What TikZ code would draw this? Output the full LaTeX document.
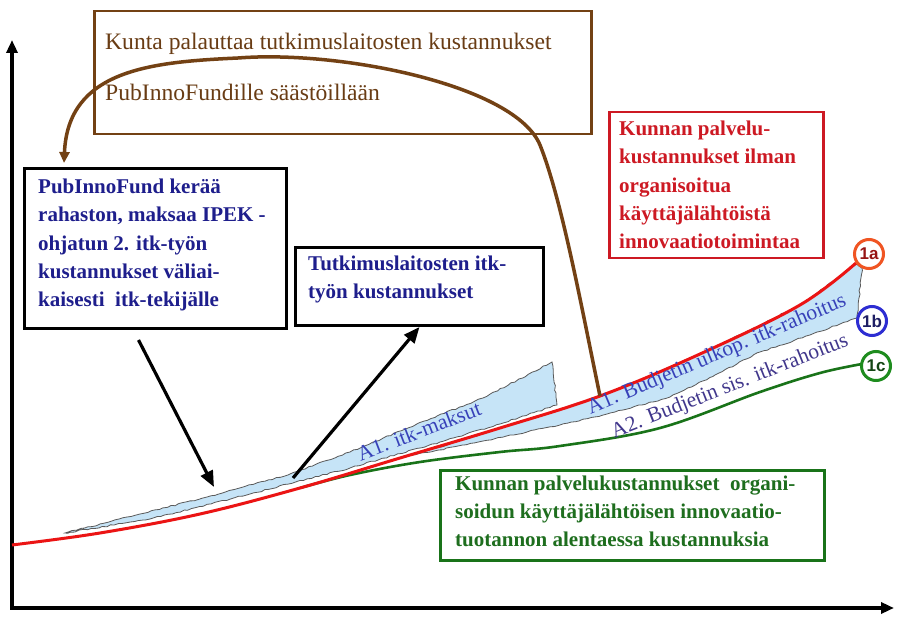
\documentclass[tikz,border=0pt]{standalone}
\usepackage{fontspec}
\setmainfont{Liberation Serif}
\newfontfamily\ringfont{Liberation Sans}
\usetikzlibrary{arrows.meta,decorations.pathmorphing}

\definecolor{brownline}{RGB}{115,65,20}
\definecolor{browntext}{RGB}{105,60,20}
\definecolor{fundblue}{RGB}{30,30,140}
\definecolor{redline}{RGB}{235,20,20}
\definecolor{redtext}{RGB}{205,25,35}
\definecolor{greenline}{RGB}{25,115,25}
\definecolor{greentext}{RGB}{30,110,30}
\definecolor{bandfill}{RGB}{198,228,247}
\definecolor{bandedge}{RGB}{90,90,90}
\definecolor{bandtext}{RGB}{55,65,185}
\definecolor{bandtextdark}{RGB}{65,55,140}
\definecolor{ringa}{RGB}{240,85,35}
\definecolor{ringatext}{RGB}{150,20,20}
\definecolor{ringb}{RGB}{45,45,210}
\definecolor{ringbtext}{RGB}{30,30,100}
\definecolor{ringc}{RGB}{30,140,30}
\definecolor{ringctext}{RGB}{20,70,20}

\begin{document}
\begin{tikzpicture}[x=1pt,y=-1pt,
  framebox/.style={draw, line width=3pt, anchor=north west, inner sep=0pt},
  boxtext/.style={anchor=north west, inner sep=0pt, align=left},
  boldtext/.style={boxtext, font=\bfseries\fontsize{21}{28.2}\selectfont},
  axis/.style={line width=4pt, {Triangle[length=13pt,width=11pt]}-{Triangle[length=13pt,width=11pt]}},
  pointer/.style={line width=3.2pt, -{Triangle[length=16pt,width=13pt]}},
  refund/.style={draw=brownline, line width=3.5pt, -{Triangle[length=11pt,width=10pt]}},
  band/.style={fill=bandfill, draw=bandedge, line width=0.8pt,
    decorate, decoration={random steps, segment length=4pt, amplitude=0.7pt}},
  bandlabel/.style={inner sep=0pt, text=bandtext, font=\fontsize{21.5}{21.5}\selectfont},
  ring/.style={circle, line width=3pt, minimum size=29pt, inner sep=0pt, fill=white,
    font=\ringfont\bfseries\fontsize{17}{17}\selectfont},
]
\useasboundingbox (0,0) rectangle (898,617);
\fill[white] (0,0) rectangle (898,617);

% axes
\coordinate (ytop) at (12,40);
\coordinate (origin) at (12,608);
\coordinate (xend) at (894,608);
\draw[axis] (ytop) -- (origin) -- (xend);

% shaded bands
\draw[band] (65,533) -- (140,514) -- (207,497) -- (290,474) -- (350,452) -- (437,416)
  -- (483,398) -- (552,362) -- (557,405) -- (500,424) -- (440,442) -- (350,468)
  -- (250,494) -- (150,519) -- cycle;
\draw[band] (400,458) -- (483,441) -- (527,432) -- (560,425) -- (615,412) -- (670,397)
  -- (715,375) -- (760,352) -- (810,335) -- (857,318) -- (862,268) -- (857,264)
  -- (800,305) -- (750,330) -- (700,354) -- (650,376) -- (600,396) -- (550,413)
  -- (500,428) -- (450,444) -- cycle;

% cost curves
\draw[greenline, line width=2.6pt] plot[smooth, tension=0.6] coordinates
  {(300,488) (350,475) (420,462) (500,452) (560,446) (660,428) (760,392) (820,373) (862,364)};
\draw[redline, line width=3pt] plot[smooth, tension=0.6] coordinates
  {(12,545) (100,533) (200,514) (300,488) (400,458) (500,428) (600,396) (700,354) (800,305) (856,263)};

% band labels
\node[bandlabel, rotate=21] (feeslabel) at (419,431) {A1. itk-maksut};
\node[bandlabel, rotate=23] (extlabel) at (717,355) {A1. Budjetin ulkop. itk-rahoitus};
\node[bandlabel, text=bandtextdark, rotate=21.5] (intlabel) at (730,387) {A2. Budjetin sis. itk-rahoitus};

% end markers of the curves
\node[ring, draw=ringa, text=ringatext] (ringa) at (869,254) {1a};
\node[ring, draw=ringb, text=ringbtext] (ringb) at (872,321) {1b};
\node[ring, draw=ringc, text=ringctext] (ringc) at (876,366) {1c};

% text boxes
\node[framebox, draw=brownline, line width=2.5pt, minimum width=497pt, minimum height=123pt] (refundbox) at (93,10) {};
\node[boxtext, text=browntext, font=\fontsize{23.6}{51}\selectfont] (refundtext)
  at ([xshift=12pt,yshift=-23pt]refundbox.north west)
  {Kunta palauttaa tutkimuslaitosten kustannukset\\PubInnoFundille säästöillään};

\node[framebox, minimum width=262pt, minimum height=160pt] (fundbox) at (23,167) {};
\node[boldtext, text=fundblue] (fundtext) at ([xshift=15pt,yshift=-12pt]fundbox.north west)
  {PubInnoFund kerää\\rahaston, maksaa IPEK -\\ohjatun 2. itk-työn\\kustannukset väliai-\\kaisesti\ \ itk-tekijälle};

\node[framebox, minimum width=248pt, minimum height=78pt] (researchbox) at (294,246) {};
\node[boldtext, text=fundblue] (researchtext) at ([xshift=14pt,yshift=-9.5pt]researchbox.north west)
  {Tutkimuslaitosten itk-\\työn kustannukset};

\node[framebox, draw=redtext, line width=2.5pt, minimum width=214pt, minimum height=146pt] (basebox) at (608,111) {};
\node[boldtext, text=redtext] (basetext) at ([xshift=11pt,yshift=-10pt]basebox.north west)
  {Kunnan palvelu-\\kustannukset ilman\\organisoitua\\käyttäjälähtöistä\\innovaatiotoimintaa};

\node[framebox, draw=greenline, minimum width=384pt, minimum height=90pt] (savebox) at (439,469) {};
\node[boldtext, text=greentext] (savetext) at ([xshift=16pt,yshift=-6.5pt]savebox.north west)
  {Kunnan palvelukustannukset\ \ organi-\\soidun käyttäjälähtöisen innovaatio-\\tuotannon\ alentaessa kustannuksia};

% black pointers
\coordinate (feespoint) at (214,487);
\coordinate (costpoint) at (293,478);
\draw[pointer] ([xshift=-17pt,yshift=-10pt]fundbox.south) -- (feespoint);
\draw[pointer] (costpoint) -- (researchbox.south);

% brown refund arrow
\coordinate (refundstart) at (600,396);
\coordinate (refundend) at (64,163);
\draw[refund] (refundstart) .. controls (582,310) and (562,200) .. (540,145)
  .. controls (515,85) and (340,50) .. (238,58)
  .. controls (150,62) and (68,70) .. (refundend);
\end{tikzpicture}
\end{document}
